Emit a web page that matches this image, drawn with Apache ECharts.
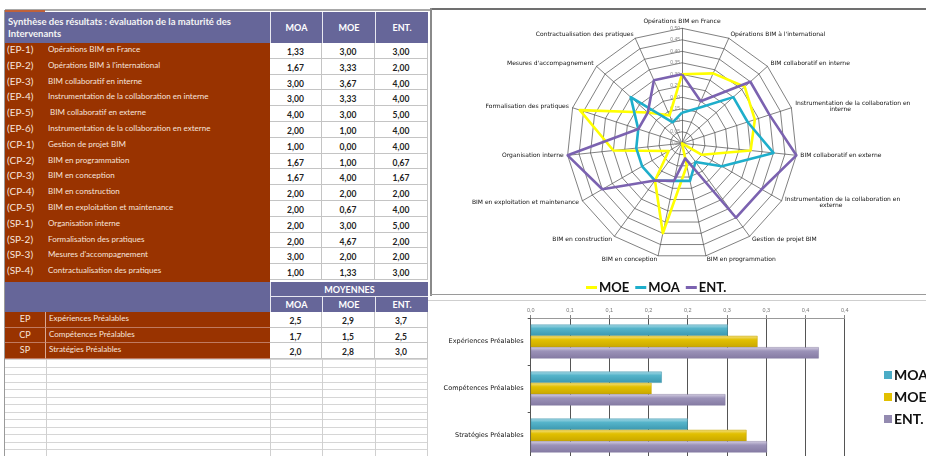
<!DOCTYPE html>
<html>
<head>
<meta charset="utf-8">
<script src="https://cdn.jsdelivr.net/npm/echarts@6/dist/echarts.min.js"></script>
<style>
html,body{margin:0;padding:0;background:#fff;}
#page{position:relative;width:926px;height:456px;overflow:hidden;font-family:Lato,"DejaVu Sans",sans-serif;}
#sheet{position:absolute;left:0;top:0;width:926px;height:456px;}
#chart{position:absolute;left:428px;top:0;width:498px;height:456px;}
.c{position:absolute;box-sizing:border-box;white-space:pre;overflow:hidden;}
</style>
</head>
<body>
<div id="page">
  <div id="sheet"></div>
  <div id="chart"></div>
</div>
<script>
// tableau principal
var codes = ['(EP-1)','(EP-2)','(EP-3)','(EP-4)','(EP-5)','(EP-6)','(CP-1)','(CP-2)','(CP-3)','(CP-4)','(CP-5)','(SP-1)','(SP-2)','(SP-3)','(SP-4)'];
var labels = ['Opérations BIM en France','Opérations BIM à l\'international','BIM collaboratif en interne',
  'Instrumentation de la collaboration en interne',' BIM collaboratif en externe','Instrumentation de la collaboration en externe',
  'Gestion de projet BIM','BIM en programmation','BIM en conception','BIM en construction',
  'BIM en exploitation et maintenance','Organisation interne','Formalisation des pratiques',
  'Mesures d\'accompagnement','Contractualisation des pratiques'];
var moa = [1.33,1.67,3.00,3.00,4.00,2.00,1.00,1.67,1.67,2.00,2.00,2.00,2.00,3.00,1.00];
var moe = [3.00,3.33,3.67,3.33,3.00,1.00,0.00,1.00,4.00,2.00,0.67,3.00,4.67,2.00,1.33];
var ent = [3.00,2.00,4.00,4.00,5.00,4.00,4.00,0.67,1.67,2.00,4.00,5.00,2.00,2.00,3.00];

// moyennes
var avgCodes = ['EP','CP','SP'];
var avgLabels = ['Expériences Préalables','Compétences Préalables','Stratégies Préalables'];
var avgMoa = ['2,5','1,7','2,0'];
var avgMoe = ['2,9','1,5','2,8'];
var avgEnt = ['3,7','2,5','3,0'];

// radar (sens horaire depuis le haut)
var radarNames = ['Opérations BIM en France','Opérations BIM à l\'international','BIM collaboratif en interne',
  'Instrumentation de la collaboration en\n                  interne','BIM collaboratif en externe',
  'Instrumentation de la collaboration en\n                  externe','Gestion de projet BIM','BIM en programmation',
  'BIM en conception','BIM en construction','BIM en exploitation et maintenance','Organisation interne',
  'Formalisation des pratiques','Mesures d\'accompagnement','Contractualisation des pratiques'];
var radarTicks = ['0,00','0,05','0,10','0,15','0,20','0,25','0,30','0,35','0,40','0,45','0,50'];

// barres
var barCats = ['Expériences Préalables','Compétences Préalables','Stratégies Préalables'];
var barMoa = [0.251, 0.167, 0.200];
var barMoe = [0.289, 0.154, 0.275];
var barEnt = [0.367, 0.248, 0.301];
var barTicks = ['0,0','0,1','0,1','0,2','0,2','0,3','0,3','0,4','0,4'];

var PURPLE = '#666699', BROWN = '#993300';
var sheet = document.getElementById('sheet');
function box(x, y, w, h, css, text) {
  var d = document.createElement('div');
  d.className = 'c';
  d.style.cssText = 'left:'+x+'px;top:'+y+'px;width:'+w+'px;height:'+h+'px;' + (css || '');
  if (text != null) d.textContent = text;
  sheet.appendChild(d);
  return d;
}
function fmt(v) { return v.toFixed(2).replace('.', ','); }

var colX = [270, 322, 375, 428];
var valCss = 'background:#fff;border-right:1px solid #c4c4c4;border-bottom:1px solid #c4c4c4;text-align:center;font-weight:bold;font-size:8.5px;color:#222;padding-top:3px;';

// cadres
box(5, 9, 425, 2, 'background:#a8a8a8');
box(430, 8, 496, 2, 'background:#707070');
box(430, 8, 2, 288, 'background:#8a8a8a');
box(430, 294, 496, 1, 'background:#9a9a9a');
box(427, 300, 499, 1, 'background:#cfcfcf');
box(427, 296, 1, 160, 'background:#a0a0a0');
box(4, 10, 1, 446, 'background:#9a9a9a');
box(5, 10, 40, 2, 'background:#c0623a');

// grille vide du bas
for (var gy = 359; gy < 456; gy += 7.5) box(5, gy, 423, 1, 'background:#d6d6d6');
[46, 270, 322, 375, 427].forEach(function (x) { box(x, 359, 1, 97, 'background:#d0d0d0'); });

// en-tête
box(5, 12, 265, 31, 'background:' + PURPLE + ';color:#f4f4f4;font-size:9.5px;font-weight:bold;line-height:12px;padding:4px 0 0 3px;',
  'Synthèse des résultats : évaluation de la maturité des\nIntervenants');
['MOA','MOE','ENT.'].forEach(function (t, k) {
  box(colX[k], 12, colX[k+1] - colX[k], 31, 'background:' + PURPLE + ';color:#fff;font-weight:bold;font-size:9px;text-align:center;line-height:31px;border-left:1px solid #e8e8f0;', t);
});

// lignes de données
var rh = 15.8;
box(5, 43, 265, 239, 'background:' + BROWN);
for (var i = 0; i < codes.length; i++) {
  var y = 43 + i * rh;
  box(7, y, 40, rh, 'color:#f7e4dc;font-size:10px;line-height:' + (rh - 2) + 'px;', codes[i]);
  box(48, y, 220, rh, 'color:#f7e4dc;font-size:8px;line-height:' + (rh - 2) + 'px;', labels[i]);
  [moa[i], moe[i], ent[i]].forEach(function (v, k) {
    box(colX[k], y, colX[k+1] - colX[k], rh, valCss + 'line-height:' + (rh - 3) + 'px;', fmt(v));
  });
}

// bloc moyennes
box(5, 282, 265, 30, 'background:' + PURPLE);
box(270, 282, 158, 15, 'background:' + PURPLE + ';color:#fff;font-weight:bold;font-size:9px;text-align:center;line-height:15px;border-left:1px solid #e8e8f0;border-bottom:1px solid #e8e8f0;', 'MOYENNES');
['MOA','MOE','ENT.'].forEach(function (t, k) {
  box(colX[k], 297, colX[k+1] - colX[k], 15, 'background:' + PURPLE + ';color:#fff;font-weight:bold;font-size:9px;text-align:center;line-height:15px;border-left:1px solid #e8e8f0;', t);
});
var ah = 15.6;
for (var j = 0; j < avgCodes.length; j++) {
  var ay = 312 + j * ah;
  box(5, ay, 41, ah, 'background:' + BROWN + ';color:#f7e4dc;font-size:9px;text-align:center;line-height:' + (ah - 1) + 'px;border-right:1px solid #d8a894;border-bottom:1px solid #c07a60;', avgCodes[j]);
  box(46, ay, 224, ah, 'background:' + BROWN + ';color:#f7e4dc;font-size:8px;padding-left:3px;line-height:' + (ah - 3) + 'px;border-bottom:1px solid #c07a60;', avgLabels[j]);
  [avgMoa[j], avgMoe[j], avgEnt[j]].forEach(function (v, k) {
    box(colX[k], ay, colX[k+1] - colX[k], ah, valCss + 'line-height:' + (ah - 3) + 'px;', v);
  });
}

// graphiques
var chart = echarts.init(document.getElementById('chart'));
// ECharts place les indicateurs dans le sens anti-horaire : on inverse après le premier
var order = [0];
for (var n = radarNames.length - 1; n > 0; n--) order.push(n);
function pick(arr) { return order.map(function (k) { return arr[k]; }); }

var indicators = order.map(function (k, idx) {
  var ind = { name: radarNames[k], min: 0, max: 5 };
  if (idx === 0) ind.axisLabel = { show: true, fontSize: 5, color: '#888', margin: 2,
    formatter: function (v, t) { return radarTicks[t]; } };
  return ind;
});

function grad(c0, c1, c2) {
  return new echarts.graphic.LinearGradient(0, 0, 0, 1, [
    { offset: 0, color: c0 }, { offset: 0.35, color: c1 }, { offset: 1, color: c2 }
  ]);
}

chart.setOption({
  backgroundColor: 'transparent',
  animation: false,
  radar: {
    center: [254, 143.3],
    radius: 115,
    startAngle: 90,
    shape: 'polygon',
    splitNumber: 10,
    indicator: indicators,
    nameGap: 4,
    axisName: { color: '#111', fontSize: 6, fontFamily: 'DejaVu Sans' },
    splitLine: { lineStyle: { color: '#4a4a4a', width: 0.7 } },
    splitArea: { show: false },
    axisLine: { lineStyle: { color: '#4a4a4a', width: 0.7 } },
    axisTick: { show: false },
    axisLabel: { show: false }
  },
  grid: { left: 102.7, top: 318, width: 314, height: 141, outerBoundsMode: 'none', containLabel: false },
  xAxis: {
    type: 'value', position: 'top', min: 0, max: 0.4, interval: 0.05,
    axisLabel: { fontSize: 5.5, color: '#777', margin: 5, formatter: function (v, t) { return barTicks[t]; } },
    axisLine: { show: true, lineStyle: { color: '#999' } },
    axisTick: { show: true, length: 3, lineStyle: { color: '#888' } },
    splitLine: { show: true, lineStyle: { color: '#555', width: 1 } }
  },
  yAxis: {
    type: 'category', inverse: true, data: barCats,
    axisLabel: { fontSize: 6.5, color: '#111', fontFamily: 'DejaVu Sans', margin: 7 },
    axisLine: { show: true, lineStyle: { color: '#555' } },
    axisTick: { show: true, length: 3, lineStyle: { color: '#555' } },
    splitLine: { show: false }
  },
  legend: [{
    data: [
      { name: 'MOE', itemStyle: { color: '#ffff00', borderWidth: 0 } },
      { name: 'MOA', itemStyle: { color: '#1eaecb', borderWidth: 0 } },
      { name: 'ENT.', itemStyle: { color: '#7b62b0', borderWidth: 0 } }
    ],
    left: 153, top: 276, icon: 'rect', itemWidth: 11, itemHeight: 3, itemGap: 6,
    selectedMode: false,
    textStyle: { fontSize: 13, fontWeight: 'bold', fontFamily: 'Lato', color: '#111', padding: [0, 0, 0, -3] }
  }, {
    orient: 'vertical',
    data: [
      { name: 'MOA', itemStyle: { color: '#4bacc6', borderWidth: 0 } },
      { name: 'MOE', itemStyle: { color: '#e2c000', borderWidth: 0 } },
      { name: 'ENT.', itemStyle: { color: '#938ab0', borderWidth: 0 } }
    ],
    left: 451, top: 363, icon: 'rect', itemWidth: 8, itemHeight: 8, itemGap: 8,
    selectedMode: false,
    textStyle: { fontSize: 14, fontWeight: 'bold', fontFamily: 'Lato', color: '#111', padding: [0, 0, 0, -3] }
  }],
  series: [{
    type: 'radar',
    symbol: 'none',
    data: [
      { name: 'MOE', value: pick(moe), lineStyle: { color: '#ffff00', width: 2.6 }, itemStyle: { color: '#ffff00' } },
      { name: 'MOA', value: pick(moa), lineStyle: { color: '#1eaecb', width: 2.6 }, itemStyle: { color: '#1eaecb' } },
      { name: 'ENT.', value: pick(ent), lineStyle: { color: '#7b62b0', width: 2.6 }, itemStyle: { color: '#7b62b0' } }
    ]
  }, {
    name: 'MOA', type: 'bar', barWidth: 11.3, barGap: '0%', data: barMoa,
    itemStyle: { color: grad('#a9dbe7', '#55b4ca', '#3c98b0'), borderColor: '#3d93a8', borderWidth: 0.5 }
  }, {
    name: 'MOE', type: 'bar', barWidth: 11.3, data: barMoe,
    itemStyle: { color: grad('#f3e088', '#e2c000', '#c9a800'), borderColor: '#c4a400', borderWidth: 0.5 }
  }, {
    name: 'ENT.', type: 'bar', barWidth: 11.3, data: barEnt,
    itemStyle: { color: grad('#d4cee2', '#9b92b8', '#857ba3'), borderColor: '#857ca0', borderWidth: 0.5 }
  }]
});
</script>
</body>
</html>
